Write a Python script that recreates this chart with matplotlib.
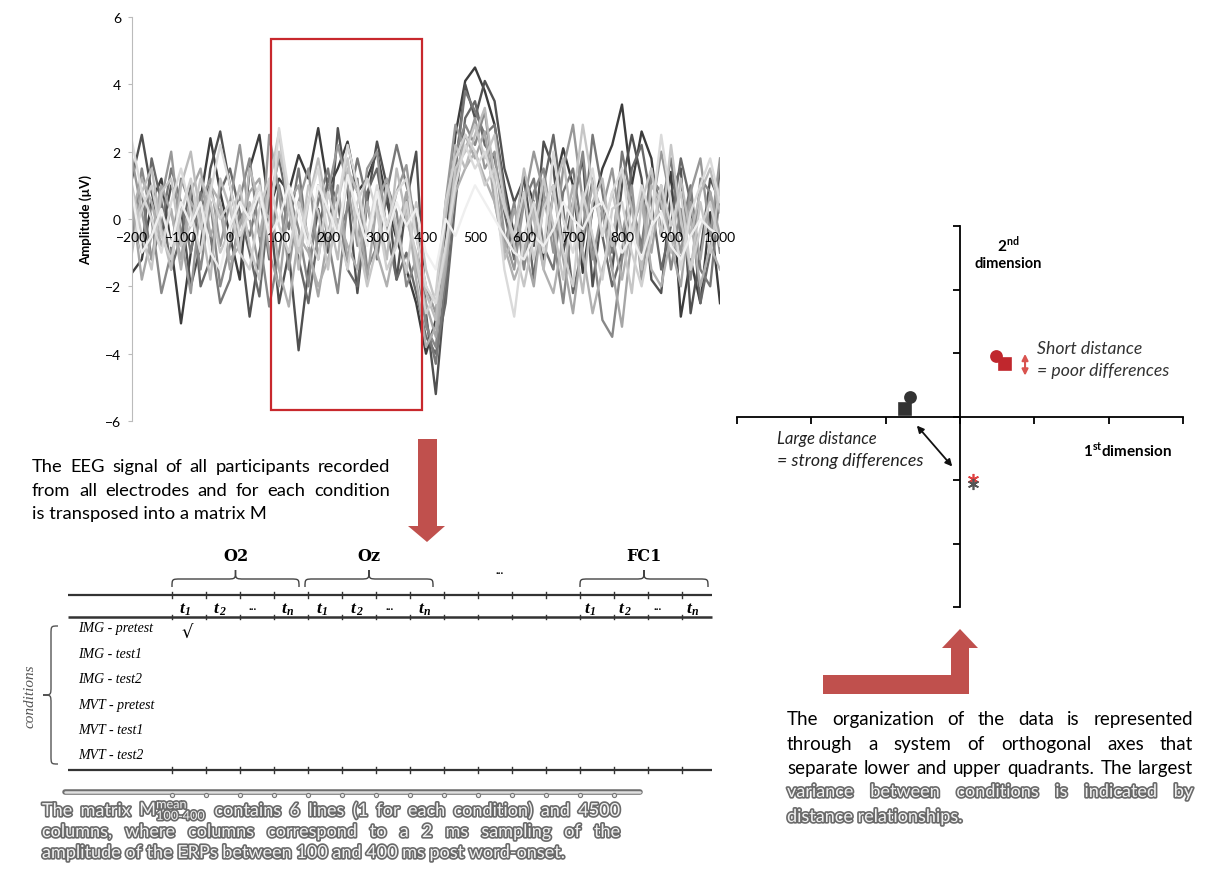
import numpy as np
import matplotlib
matplotlib.use('Agg')
import matplotlib.pyplot as plt
from matplotlib.patches import Rectangle, Polygon, PathPatch, FancyArrowPatch
from matplotlib.path import Path
import matplotlib.patheffects as pe

plt.rcParams['font.family'] = ['Lato', 'DejaVu Sans']

W, H = 1225, 870

# ---- ERP traces (µV), sampled every 20 ms from -200 to 1000 ms ----
time_ms = np.arange(-200, 1001, 20)
trace_a = [-1.6, -1.2, 0.5, 1.2, -0.8, -3.1, -1.0, 0.6, 2.4, 0.8,
           -0.5, -1.8, 1.5, 2.5, 0.3, 1.2, 0.8, 1.9, 1.2, 2.7,
           0.9, 1.5, 2.3, 0.8, 1.2, 2.0, 0.5, -0.6, -1.5, -2.5,
           -4.0, -3.0, -0.5, 2.5, 4.1, 4.5, 3.8, 2.8, 1.0, -0.5,
           1.3, 0.5, -1.2, 0.8, 2.1, 1.0, -1.6, 0.3, 1.5, 2.2,
           3.4, 1.0, 2.6, 1.8, -0.5, 1.4, -2.9, -1.2, -2.5, 0.2, -2.5]
trace_b = [1.2, 2.5, 0.8, -0.5, 1.0, 0.3, -2.0, -0.8, 1.5, 2.6,
           1.0, -0.5, -2.9, -1.0, 0.5, -2.5, -1.0, -3.9, -1.5, 0.3,
           -1.0, 2.7, 0.8, -2.2, 0.5, 2.3, 1.0, -1.8, 0.5, 2.0,
           -2.8, -5.2, -2.0, 1.5, 4.0, 3.0, 4.1, 3.5, 1.5, 0.5,
           1.2, -0.8, 2.3, 1.5, -1.0, 0.5, 1.8, -2.0, 0.3, -1.5,
           1.0, 2.5, 1.2, -1.8, -2.2, 0.8, 1.5, -2.8, -1.0, 1.2, 0.5]
trace_c = [0.3, -1.0, 1.8, 0.5, -1.5, -0.5, 1.0, -2.0, -1.2, 0.8,
           1.5, 0.2, -1.0, -2.3, 0.5, 1.8, 0.3, -1.2, -2.5, -0.5,
           1.2, 0.5, -1.5, -2.0, 0.8, 1.5, -0.3, -1.8, -1.0, -2.2,
           -3.5, -4.0, -2.5, 0.5, 3.0, 3.5, 2.2, 1.8, 0.2, -1.2,
           0.8, -1.8, 1.0, 2.5, 0.3, -2.2, -0.8, 1.2, -0.5, -2.0,
           -1.0, 1.5, 2.2, 0.5, -1.5, -0.2, 1.8, 0.5, -2.5, -1.0, 1.5]
trace_k = [-0.5, 0.8, -1.2, -0.2, 1.5, 0.5, -1.0, 0.8, -0.5, -2.5,
           -1.8, 0.2, -0.5, 0.8, -1.2, 1.0, -0.3, 1.5, -0.8, 0.5,
           1.5, -0.5, 0.3, 1.8, 0.5, -1.2, 0.8, 2.2, 1.0, 0.0,
           -3.0, -4.3, -1.8, 1.5, 3.8, 3.2, 2.5, 2.8, 0.8, -1.0,
           0.5, 1.2, -0.8, -1.5, 0.8, 1.5, -0.5, 2.5, 0.8, -1.0,
           2.0, 0.5, -0.8, 1.5, 0.3, 1.8, -0.5, 1.0, -1.5, -2.0, 0.8]
trace_d = [-0.5, 1.5, 0.0, -2.2, -1.0, 1.2, 0.4, -1.5, 0.5, -2.0,
           -0.8, 0.6, 1.8, -0.5, -2.6, -1.0, 0.8, -0.3, -2.0, 1.0,
           -0.6, -2.2, 0.5, 1.2, -1.5, -0.8, 1.0, 0.2, -2.0, -1.2,
           -3.2, -3.8, -1.0, 2.0, 2.8, 2.2, 3.2, 1.0, -0.8, 0.5,
           -1.5, 0.8, 1.5, -0.5, -2.5, 0.2, 2.0, -0.8, -3.0, -3.5,
           -1.2, 0.5, -1.0, 1.2, 0.8, -1.5, 0.3, -1.8, 1.2, 0.8, -1.0]
trace_e = [1.8, 0.2, -1.2, 0.6, 2.0, -0.5, -2.2, 0.5, 1.2, -0.8,
           0.5, 2.2, 0.0, -1.5, 2.5, 0.8, -1.5, 0.5, 1.5, -1.2,
           0.8, 2.2, 1.0, -0.8, 1.5, 2.0, -0.5, 0.8, 1.6, -0.5,
           -2.0, -2.8, 0.5, 2.8, 2.0, 3.0, 1.5, 2.0, -0.5, -1.5,
           0.5, 2.0, 0.8, -1.0, 1.5, 2.8, 0.5, -1.2, 0.3, 1.5,
           -0.5, 1.0, -1.8, 0.2, 2.0, 0.5, -1.0, 0.8, 1.8, -0.5, 1.8]
trace_f = [0.5, -1.8, -0.5, 1.0, 0.2, -1.2, 0.8, 1.5, -0.5, 0.3,
           -1.5, -0.2, 0.8, 1.2, -1.0, -2.0, 0.5, 1.0, -0.8, -2.3,
           -0.5, 1.0, -1.2, 0.3, -1.8, 0.5, 1.2, -0.5, 0.8, -1.5,
           -2.5, -3.5, -1.5, 1.2, 2.5, 1.8, 2.6, 0.5, -1.0, 0.3,
           -0.8, -2.0, 0.5, 1.0, -1.2, -2.8, -0.5, 1.0, 0.2, -1.5,
           -3.2, -0.5, 0.8, -1.0, 1.0, -0.8, -2.0, 0.5, -1.2, 0.8, -0.5]
trace_l = [0.2, 1.2, 0.5, -0.8, 0.3, -1.5, 0.5, 0.0, 1.0, 0.5,
           -1.2, -0.8, 0.5, -0.5, 1.0, -1.5, -2.6, -0.5, -1.0, -2.0,
           -1.2, 0.0, -0.8, -1.5, 0.5, -1.0, -2.0, -0.5, 0.5, -1.8,
           -3.8, -3.2, -1.2, 0.8, 1.5, 2.0, 1.2, 0.5, -0.8, -1.8,
           -1.0, 0.3, -1.5, -2.2, -0.5, 1.0, -1.0, -2.8, -1.5, -0.5,
           -1.8, -0.2, 0.5, -1.5, -2.0, -0.5, -1.2, 0.0, -2.0, -0.8, -1.5]
trace_g = [-1.0, 0.8, 1.5, -0.3, -1.5, 1.0, 2.0, 0.0, -1.8, 1.2,
           0.3, -1.0, 1.5, 0.5, 0.0, 2.0, 0.8, -1.5, 0.5, 1.8,
           0.2, -1.2, 1.5, 0.8, -0.5, 0.5, -1.2, 1.5, 0.0, -1.0,
           -2.2, -3.0, 0.0, 2.2, 1.5, 2.5, 3.3, 1.2, -1.2, -0.5,
           1.5, 0.0, -1.5, 0.8, 1.8, -0.3, -2.2, 0.5, 1.2, -0.8,
           1.5, 0.3, -1.5, 1.0, 0.5, -1.0, 1.2, -0.5, 0.8, 1.5, 0.2]
trace_h = [1.0, -0.5, -1.5, 0.8, 1.2, -0.8, -0.2, 1.2, 0.5, -1.0,
           -0.3, 1.0, -0.8, -1.8, 1.0, 2.6, 0.2, -1.0, 1.0, 0.2,
           -1.5, 0.5, 1.8, -0.5, -2.0, -0.8, 1.0, -0.2, -1.6, 0.5,
           -1.5, -2.5, -1.0, 1.5, 2.0, 2.8, 1.8, 2.5, 0.5, -0.8,
           -2.0, -0.5, 1.2, -0.2, -1.8, 0.5, 2.8, 1.0, -0.5, 0.8,
           -0.5, -2.2, 0.5, 1.5, -0.5, 2.2, 0.0, -1.5, 0.5, -1.0, 1.0]
trace_m = [-0.8, 0.3, 1.0, -0.5, -1.2, 0.2, 1.2, -0.3, 0.8, 0.0,
           0.5, -1.0, -1.5, 0.3, 1.2, -0.2, -1.0, 0.5, -0.5, -1.2,
           0.8, -0.3, -1.5, 0.5, 1.2, 0.2, -1.5, -0.8, 0.5, -1.2,
           -2.8, -2.2, 0.5, 1.8, 2.5, 2.0, 1.0, 1.5, 0.3, -0.5,
           0.8, -1.2, 0.3, 1.0, -1.0, -2.0, 0.8, -0.5, -1.8, 0.3,
           0.5, -1.0, -2.0, -0.5, 1.0, -0.2, 0.8, -1.5, -0.3, 0.5, -0.8]
trace_i = [2.3, 0.8, 0.0, -1.0, 0.5, 1.5, 0.2, -1.0, 0.8, 2.2,
           1.0, -0.5, 0.2, 1.0, -0.5, 2.7, 0.8, -0.8, 0.5, 1.5,
           -0.5, 0.5, 2.2, 1.0, -0.5, 1.0, -0.2, 0.8, 1.2, -0.5,
           -2.0, -2.5, -0.8, 1.0, 2.2, 1.5, 2.0, 1.0, -1.5, -2.9,
           -0.5, 0.5, -1.0, 2.0, 0.0, -1.0, 0.5, 1.5, -0.5, 0.8,
           1.5, -0.5, 1.0, 0.0, 2.5, 0.5, -1.5, 0.2, 1.0, 1.8, 0.5]
trace_j = [0.8, -1.0, -0.5, 0.3, -0.8, 0.5, -0.2, 0.5, -1.0, -1.5,
           -0.2, 0.5, 0.0, 0.8, -0.5, 0.0, 1.0, 0.2, -0.8, 1.0,
           0.3, -0.5, 1.3, 0.2, -0.8, 0.8, -0.5, 0.5, -0.2, 0.3,
           -1.0, -1.5, 0.0, -0.5, 0.3, 1.0, 0.5, 0.0, -0.5, -1.0,
           -1.2, -0.5, -0.8, -0.3, 0.5, 0.0, -0.3, 0.3, 0.5, -0.2,
           -1.0, -0.5, -1.2, -0.2, 0.2, -0.8, -1.2, -0.5, 0.0, -0.3, -0.5]

erp_traces = [trace_a, trace_b, trace_c, trace_k, trace_d, trace_e, trace_f,
              trace_l, trace_g, trace_h, trace_m, trace_i, trace_j]
trace_grays = ['#3c3c3c', '#505050', '#686868', '#787878', '#888888', '#989898',
               '#a6a6a6', '#b0b0b0', '#bcbcbc', '#c6c6c6', '#d0d0d0', '#dadada', '#efefef']
amp_ticks = [-6, -4, -2, 0, 2, 4, 6]
time_ticks = [-200, -100, 0, 100, 200, 300, 400, 500, 600, 700, 800, 900, 1000]

# ---- MDS-like sketch ----
mds_x = [-0.74, -0.67, 0.60, 0.49, 0.18, 0.18]
mds_y = [0.12, 0.30, 0.82, 0.95, -0.99, -1.06]
mds_marker = ['s', 'o', 's', 'o', (6, 2, 0), (6, 2, 0)]
mds_color = ['#333333', '#333333', '#c0272d', '#c0272d', '#e04040', '#555555']
mds_size = [9, 8, 9, 8, 8, 8]

# ---- matrix table ----
conditions = ['IMG - pretest', 'IMG - test1', 'IMG - test2',
              'MVT - pretest', 'MVT - test1', 'MVT - test2']
electrodes = ['O2', 'Oz', 'FC1']

fig = plt.figure(figsize=(W / 100, H / 100), dpi=100)

# ---------- ERP panel ----------
ax = fig.add_axes([132 / W, 1 - 422 / H, 588 / W, 404 / H])
for tr, c in zip(erp_traces, trace_grays):
    ax.plot(time_ms, tr, color=c, lw=1.7, solid_joinstyle='round')
ax.set_xlim(-200, 1000)
ax.set_ylim(-6, 6)
ax.set_yticks(amp_ticks)
ax.set_xticks(time_ticks)
for s in ['top', 'right']:
    ax.spines[s].set_visible(False)
ax.spines['bottom'].set_position(('data', 0))
ax.spines['bottom'].set_visible(False)
ax.spines['left'].set_color('#bbbbbb')
ax.tick_params(axis='x', length=0, pad=9, labelsize=10)
ax.tick_params(axis='y', length=3, color='#bbbbbb', labelsize=10, pad=5)
ax.set_axisbelow(False)
ax.set_ylabel('Amplitude (µV)', fontsize=9.5, fontweight='bold')
ax.yaxis.set_label_coords(-0.068, 0.5)
ax.add_patch(Rectangle((84, -5.67), 307, 11.02, fill=False, ec='#c8282d', lw=1.6, zorder=4))

# ---------- MDS panel ----------
sx = fig.add_axes([737 / W, 1 - 608 / H, 446 / W, 381 / H])
sx.patch.set_alpha(0)
sx.set_xlim(-3, 3)
sx.set_ylim(-3, 3)
for s in ['top', 'right']:
    sx.spines[s].set_visible(False)
for s in ['left', 'bottom']:
    sx.spines[s].set_position(('data', 0))
    sx.spines[s].set_linewidth(1.3)
sx.set_xticks(range(-3, 4))
sx.set_yticks(range(-3, 4))
sx.tick_params(length=5, width=1.3, direction='out', labelbottom=False, labelleft=False)
for x, y, m, c, ms in zip(mds_x, mds_y, mds_marker, mds_color, mds_size):
    sx.plot(x, y, marker=m, color=c, ms=ms, mew=1.2, ls='none', zorder=5)
sx.add_patch(FancyArrowPatch((0.875, 1.03), (0.875, 0.60), arrowstyle='<|-|>',
                             mutation_scale=9, color='#d9534f', lw=1.5))
sx.add_patch(FancyArrowPatch((-0.605, -0.11), (-0.08, -0.82), arrowstyle='<|-|>',
                             mutation_scale=10, color='#111111', lw=1.3))

# ---------- overlay in pixel coords ----------
ov = fig.add_axes([0, 0, 1, 1], zorder=5)
ov.set_xlim(0, W)
ov.set_ylim(H, 0)
ov.axis('off')
renderer = fig.canvas.get_renderer()


def justify(lines, x0, x1, ys, last_left=True, **kw):
    for k, (line, y) in enumerate(zip(lines, ys)):
        if k == len(lines) - 1 and last_left:
            ov.text(x0, y, line, ha='left', va='center', **kw)
            continue
        words = line.split(' ')
        arts = [ov.text(0, y, w, ha='left', va='center', **kw) for w in words]
        widths = [a.get_window_extent(renderer).width for a in arts]
        gap = (x1 - x0 - sum(widths)) / (len(words) - 1)
        x = x0
        for a, w in zip(arts, widths):
            a.set_x(x)
            x += w + gap


def brace(p0, p1, depth, tip, vertical=False, **kw):
    # p0, p1 along the brace, depth/tip are offsets across (negative = up/left)
    a0, a1 = p0[0], p1[0]
    b = p0[1]
    ac = (a0 + a1) / 2
    bm, bt = b + depth, b + tip
    r = 9
    pts = [(a0, b), (a0, bm), (a0, bm), (a0 + r, bm), (ac - r, bm),
           (ac, bm), (ac, bm), (ac, bt), (ac, bm), (ac, bm), (ac + r, bm),
           (a1 - r, bm), (a1, bm), (a1, bm), (a1, b)]
    if vertical:
        pts = [(q, p) for p, q in pts]
    codes = [Path.MOVETO] + [Path.CURVE4] * 3 + [Path.LINETO] + [Path.CURVE4] * 6 + \
            [Path.LINETO] + [Path.CURVE4] * 3
    ov.add_patch(PathPatch(Path(pts, codes), fill=False, **kw))


red = '#c0504d'
ov.add_patch(Polygon([(418, 440), (437, 440), (437, 527), (445, 527), (427, 543),
                      (408, 527), (418, 527)], closed=True, color=red, lw=0))
ov.add_patch(Polygon([(823, 676), (951, 676), (951, 649), (942, 649), (960, 630),
                      (978, 649), (969, 649), (969, 695), (823, 695)],
                     closed=True, color=red, lw=0))

justify(['The EEG signal of all participants recorded',
         'from all electrodes and for each condition',
         'is transposed into a matrix M'], 32, 390, [467, 491, 514], fontsize=13.2)

justify(['The organization of the data is represented',
         'through a system of orthogonal axes that',
         'separate lower and upper quadrants. The largest'],
        787, 1193, [720, 745, 769], last_left=False, fontsize=13.5)
outline = [pe.withStroke(linewidth=2.4, foreground='#6a6a6a')]
justify(['variance between conditions is indicated by',
         'distance relationships.'], 787, 1193, [793, 818],
        fontsize=13, color='#f2f2f2', path_effects=outline)
justify([r'The matrix M$\mathregular{_{100\text{-}400}^{mean}}$ contains 6 lines (1 for each condition) and 4500',
         'columns, where columns correspond to a 2 ms sampling of the',
         'amplitude of the ERPs between 100 and 400 ms post word-onset.'],
        42, 620, [812, 833, 854], fontsize=13, color='#f2f2f2', path_effects=outline)

# MDS labels
ov.text(1008, 245, r'2$^{\mathregular{nd}}$', ha='center', va='center', fontsize=11, fontweight='bold')
ov.text(1008, 264, 'dimension', ha='center', va='center', fontsize=10.5, fontweight='bold')
ov.text(1128, 450, r'1$^{\mathregular{st}}$dimension', ha='center', va='center',
        fontsize=11, fontweight='bold')
ov.text(1037, 349, 'Short distance', ha='left', va='center', fontsize=12.7, style='italic', color='#333')
ov.text(1037, 371, '= poor differences', ha='left', va='center', fontsize=12.7, style='italic', color='#333')
ov.text(777, 439, 'Large distance', ha='left', va='center', fontsize=12, style='italic', color='#222')
ov.text(777, 461, '= strong differences', ha='left', va='center', fontsize=12.8, style='italic', color='#222')

# ---------- matrix table ----------
serif = ['Liberation Serif', 'DejaVu Serif']
col_x = [172 + 34 * k for k in range(16)]
for yl, lw in [(596, 1.6), (618, 1.8), (771, 1.6)]:
    ov.plot([68, 712], [yl, yl], color='#333333', lw=lw, solid_capstyle='butt')
    tick = 2 if yl == 618 else 3
    for cx in col_x:
        ov.plot([cx, cx], [yl - tick, yl + tick], color='#333333', lw=1)

group_spans = [(172, 299), (305, 433), (580, 708)]
for name, (g0, g1) in zip(electrodes, group_spans):
    brace((g0, 588), (g1, 588), -8, -17, color='#444444', lw=1)
    ov.text((g0 + g1) / 2, 557, name, ha='center', va='center', fontsize=11.5,
            fontweight='bold', family=['DejaVu Serif'])
ov.text(500, 572, '...', ha='center', va='center', fontsize=8, fontweight='bold', family=serif)

t_subs = ['1', '2', None, 'n']
for gx in [183, 320, 588]:
    for k, sub in enumerate(t_subs):
        x = gx + 34 * k
        if sub is None:
            ov.text(x + 2, 608, '...', ha='center', va='center', fontsize=8, fontweight='bold', family=serif)
        else:
            ov.text(x - 1, 609, 't', ha='center', va='center', fontsize=12.5,
                    fontweight='bold', style='italic', family=serif)
            ov.text(x + 2, 612, sub, ha='left', va='center', fontsize=8.5,
                    fontweight='bold', style='italic', family=serif)

for k, cond in enumerate(conditions):
    ov.text(78, 629 + 25.4 * k, cond, ha='left', va='center', fontsize=10, style='italic', family=serif)
ov.text(187, 633, '√', ha='center', va='center', fontsize=13, family=['DejaVu Serif'])
brace((627, 58), (765, 58), -7, -15, vertical=True, color='#555555', lw=1)
ov.text(30, 696, 'conditions', ha='center', va='center', rotation=90, fontsize=11,
        style='italic', color='#555555', family=serif)

# shadowed line above the caption
ov.plot([65, 640], [793, 793], color='#6e6e6e', lw=4, solid_capstyle='round')
ov.plot([65, 640], [793, 793], color='#e0e0e0', lw=1.8, solid_capstyle='round')
dot_x = [cx for cx in col_x if cx < 640]
ov.plot(dot_x, [796] * len(dot_x), ls='none', marker='o', ms=3,
        mfc='#e8e8e8', mec='#777777', mew=0.8)

fig.savefig('out.png', dpi=100)
